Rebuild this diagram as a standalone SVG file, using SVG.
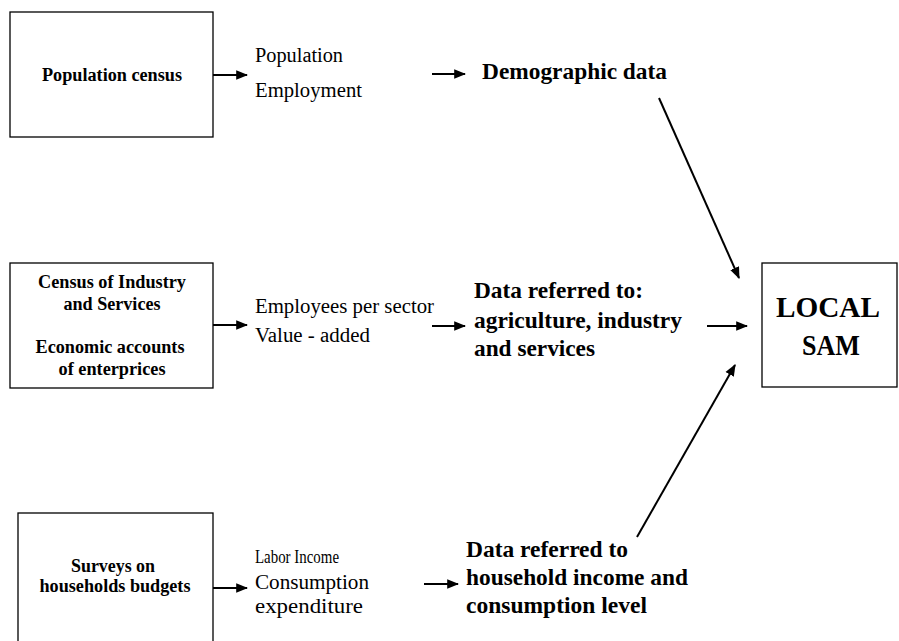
<svg xmlns="http://www.w3.org/2000/svg" width="899" height="641" viewBox="0 0 899 641">
<defs>
<marker id="ah" markerUnits="userSpaceOnUse" markerWidth="12" markerHeight="12" viewBox="0 0 10 10" refX="9" refY="5" orient="auto">
<path d="M0,1 L10,5 L0,9 Z" fill="#000"/>
</marker>
</defs>
<style>
text{font-family:"Liberation Serif","Times New Roman",serif;fill:#000}
.box{fill:#fff;stroke:#000;stroke-width:1.3}
.bt{font-weight:bold;font-size:18px;text-anchor:middle}
.lb{font-size:20px}
.dt{font-weight:bold;font-size:23px}
.sam{font-weight:bold;font-size:29px;text-anchor:middle}
.c{stroke:#000;stroke-width:2;fill:none;marker-end:url(#ah)}
</style>
<rect width="899" height="641" fill="#fff"/>
<g id="population-census">
<rect class="box" x="10" y="12" width="203" height="125"/>
<text class="bt" x="112" y="81" textLength="140" lengthAdjust="spacingAndGlyphs">Population census</text>
</g>
<g id="census-industry">
<rect class="box" x="10" y="263" width="203" height="125"/>
<text class="bt" x="112" y="288" textLength="148" lengthAdjust="spacingAndGlyphs">Census of Industry</text>
<text class="bt" x="112" y="310" textLength="97" lengthAdjust="spacingAndGlyphs">and Services</text>
<text class="bt" x="110" y="353" textLength="149" lengthAdjust="spacingAndGlyphs">Economic accounts</text>
<text class="bt" x="112" y="375" textLength="107" lengthAdjust="spacingAndGlyphs">of enterprices</text>
</g>
<g id="surveys">
<rect class="box" x="18" y="513" width="195" height="140"/>
<text class="bt" x="113" y="572" textLength="84" lengthAdjust="spacingAndGlyphs">Surveys on</text>
<text class="bt" x="115" y="592" textLength="151" lengthAdjust="spacingAndGlyphs">households budgets</text>
</g>
<g id="local-sam">
<rect class="box" x="762" y="263" width="135" height="124"/>
<text class="sam" x="828" y="317" textLength="104" lengthAdjust="spacingAndGlyphs">LOCAL</text>
<text class="sam" x="831" y="355" textLength="58" lengthAdjust="spacingAndGlyphs">SAM</text>
</g>
<g id="labels-population">
<text class="lb" x="255" y="62" textLength="88" lengthAdjust="spacingAndGlyphs">Population</text>
<text class="lb" x="255" y="97" textLength="107" lengthAdjust="spacingAndGlyphs">Employment</text>
</g>
<g id="labels-industry">
<text class="lb" x="255" y="313" textLength="179" lengthAdjust="spacingAndGlyphs">Employees per sector</text>
<text class="lb" x="255" y="342" textLength="115" lengthAdjust="spacingAndGlyphs">Value - added</text>
</g>
<g id="labels-surveys">
<text class="lb" x="255" y="563" style="font-size:18.5px" textLength="84" lengthAdjust="spacingAndGlyphs">Labor Income</text>
<text class="lb" x="255" y="589" textLength="114" lengthAdjust="spacingAndGlyphs">Consumption</text>
<text class="lb" x="255" y="613" textLength="108" lengthAdjust="spacingAndGlyphs">expenditure</text>
</g>
<g id="demographic-data">
<text class="dt" x="482" y="79" textLength="185" lengthAdjust="spacingAndGlyphs">Demographic data</text>
</g>
<g id="sector-data">
<text class="dt" x="474" y="298" textLength="169" lengthAdjust="spacingAndGlyphs">Data referred to:</text>
<text class="dt" x="474" y="328" textLength="208" lengthAdjust="spacingAndGlyphs">agriculture, industry</text>
<text class="dt" x="474" y="356" textLength="121" lengthAdjust="spacingAndGlyphs">and services</text>
</g>
<g id="household-data">
<text class="dt" x="466" y="557" textLength="162" lengthAdjust="spacingAndGlyphs">Data referred to</text>
<text class="dt" x="466" y="585" textLength="222" lengthAdjust="spacingAndGlyphs">household income and</text>
<text class="dt" x="466" y="613" textLength="181" lengthAdjust="spacingAndGlyphs">consumption level</text>
</g>
<g id="connectors">
<line class="c" x1="213" y1="75" x2="247" y2="75"/>
<line class="c" x1="213" y1="325" x2="247" y2="325"/>
<line class="c" x1="213" y1="588" x2="247" y2="588"/>
<line class="c" x1="432" y1="74" x2="465" y2="74"/>
<line class="c" x1="432" y1="326" x2="465" y2="326"/>
<line class="c" x1="424" y1="584" x2="458" y2="584"/>
<line class="c" x1="707" y1="326" x2="747" y2="326"/>
<line class="c" x1="659" y1="98" x2="739" y2="278"/>
<line class="c" x1="637" y1="537" x2="735" y2="365"/>
</g>
</svg>
